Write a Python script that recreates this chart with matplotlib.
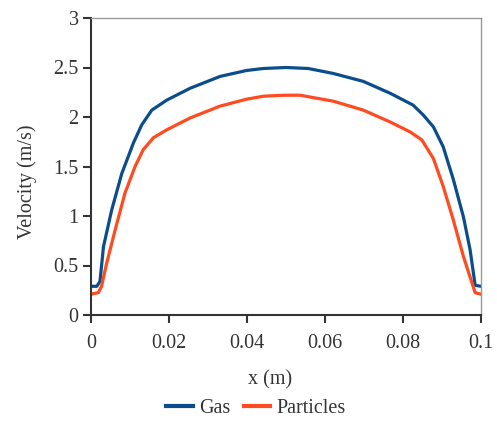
import matplotlib
matplotlib.use("Agg")
import matplotlib.pyplot as plt

gas_x = [0.0, 0.0015, 0.0023, 0.0032, 0.0053, 0.0079, 0.0109, 0.013, 0.0156, 0.0194,
         0.0254, 0.0331, 0.0399, 0.0442, 0.05, 0.0557, 0.0621, 0.0698, 0.0767, 0.0826,
         0.0852, 0.0878, 0.0903, 0.0929, 0.0955, 0.0972, 0.0985, 0.1]
gas_v = [0.29, 0.29, 0.34, 0.69, 1.06, 1.43, 1.74, 1.92, 2.07, 2.17,
         2.29, 2.41, 2.47, 2.49, 2.50, 2.49, 2.44, 2.36, 2.24, 2.12,
         2.02, 1.90, 1.70, 1.37, 0.99, 0.66, 0.30, 0.29]

part_x = [0.0, 0.0019, 0.0027, 0.004, 0.0062, 0.0087, 0.0113, 0.0134, 0.016, 0.0194,
          0.0254, 0.0331, 0.0399, 0.0442, 0.0495, 0.0536, 0.0621, 0.0698, 0.0767, 0.0818,
          0.0848, 0.0878, 0.0903, 0.0929, 0.0955, 0.0985, 0.1]
part_v = [0.21, 0.226, 0.29, 0.52, 0.86, 1.23, 1.50, 1.67, 1.79, 1.87,
          1.99, 2.11, 2.18, 2.21, 2.22, 2.22, 2.16, 2.07, 1.95, 1.85,
          1.77, 1.58, 1.30, 0.96, 0.59, 0.226, 0.21]

x_ticks = [0, 0.02, 0.04, 0.06, 0.08, 0.1]
x_tick_labels = ["0", "0.02", "0.04", "0.06", "0.08", "0.1"]
y_ticks = [0, 0.5, 1, 1.5, 2, 2.5, 3]
y_tick_labels = ["0", "0.5", "1", "1.5", "2", "2.5", "3"]

plt.rcParams['font.family'] = ['Liberation Serif', 'DejaVu Serif']
text_color = '#333333'
fs = 14.5

fig = plt.figure(figsize=(4.97, 4.30), dpi=100)
ax = fig.add_axes([91/497, 1 - 315/430, 390/497, 297/430])

ax.plot(gas_x, gas_v, color='#0b4c8c', lw=2.3, label='Gas')
ax.plot(part_x, part_v, color='#ff4b1f', lw=2.3, label='Particles')

ax.set_xlim(0, 0.1)
ax.set_ylim(0, 3)
ax.set_xticks(x_ticks)
ax.set_xticklabels(x_tick_labels)
ax.set_yticks(y_ticks)
ax.set_yticklabels(y_tick_labels)

for s in ['left', 'bottom']:
    ax.spines[s].set_color('#333333')
    ax.spines[s].set_linewidth(1.5)
for s in ['top', 'right']:
    ax.spines[s].set_color('#999999')
    ax.spines[s].set_linewidth(1.0)

ax.tick_params(direction='out', length=6, width=1.5, color='#333333',
               labelsize=fs, labelcolor=text_color)
ax.tick_params(axis='x', pad=8)
ax.tick_params(axis='y', pad=3)

ax.set_xlabel('x (m)', fontsize=fs, color=text_color)
ax.set_ylabel('Velocity (m/s)', fontsize=fs, color=text_color)
ax.xaxis.set_label_coords(0.46, -0.185)
ax.yaxis.set_label_coords(-0.138, 0.45)

leg = fig.legend(loc='center', bbox_to_anchor=(256/497, 1 - 408/430), ncol=2,
                 frameon=False, fontsize=fs, handlelength=1.3, handletextpad=0.3,
                 columnspacing=0.7)
for t in leg.get_texts():
    t.set_color(text_color)
for h in leg.get_lines():
    h.set_linewidth(3)

fig.savefig('out.png', dpi=100)
